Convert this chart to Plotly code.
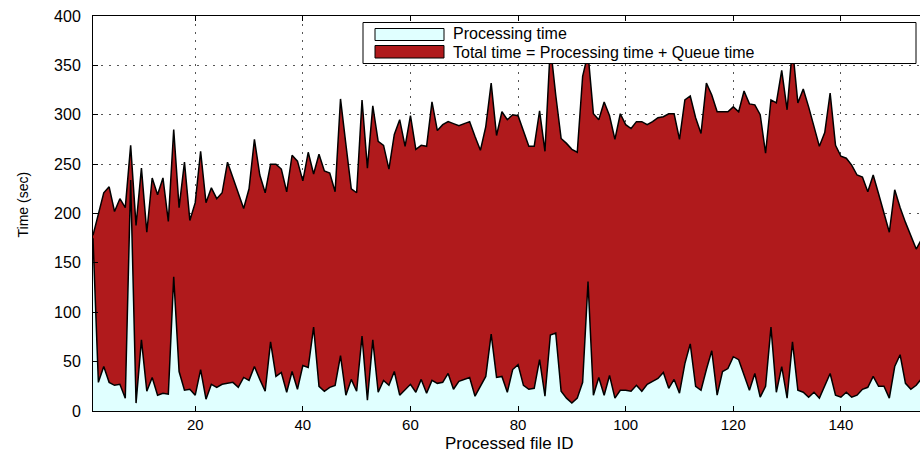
import plotly.graph_objects as go

# ---------------- data ----------------
file_id = list(range(1, 156))

total_time = [
    178, 200, 221, 227, 202, 215, 206, 269, 188, 246,
    181, 236, 219, 236, 192, 285, 206, 252, 193, 211,
    263, 211, 226, 215, 221, 252, 237, 221, 205, 225,
    275, 239, 221, 250, 250, 245, 222, 259, 253, 233,
    262, 240, 260, 243, 241, 222, 316, 270, 225, 221,
    315, 246, 309, 273, 269, 245, 280, 295, 268, 299,
    265, 269, 268, 313, 284, 290, 293, 291, 289, 291,
    293, 278, 264, 288, 332, 279, 303, 295, 300, 299,
    284, 268, 268, 304, 263, 370, 320, 276, 271, 265,
    262, 339, 362, 301, 295, 313, 299, 275, 301, 290,
    286, 293, 293, 290, 293, 297, 298, 301, 301, 275,
    315, 319, 297, 281, 332, 320, 303, 303, 303, 308,
    303, 324, 311, 310, 300, 261, 315, 312, 345, 305,
    368, 312, 326, 308, 287, 268, 282, 322, 269, 258,
    256, 249, 239, 237, 222, 239, 220, 200, 181, 224,
    206, 191, 178, 164, 174,
]

processing_time = [
    175, 29, 45, 29, 26, 27, 13, 234, 8, 72,
    20, 34, 16, 18, 17, 136, 40, 21, 22, 16,
    42, 12, 27, 24, 27, 28, 29, 24, 34, 31,
    45, 32, 20, 70, 35, 39, 19, 40, 22, 46,
    44, 85, 25, 20, 24, 26, 56, 16, 32, 20,
    76, 11, 72, 19, 31, 26, 40, 16, 21, 27,
    19, 32, 18, 31, 28, 29, 38, 22, 30, 32,
    34, 15, 25, 35, 78, 34, 35, 19, 42, 47,
    26, 22, 23, 52, 15, 77, 79, 20, 13, 8,
    13, 29, 131, 16, 34, 16, 36, 13, 21, 21,
    20, 26, 20, 27, 30, 33, 39, 23, 32, 18,
    48, 68, 25, 21, 42, 61, 16, 40, 43, 55,
    52, 36, 21, 38, 14, 25, 85, 19, 45, 13,
    70, 21, 19, 14, 19, 13, 25, 38, 16, 14,
    19, 14, 16, 22, 24, 35, 25, 25, 13, 45,
    57, 28, 22, 26, 33,
]

y_ticks = [0, 50, 100, 150, 200, 250, 300, 350, 400]
x_ticks = [20, 40, 60, 80, 100, 120, 140]
legend_labels = ["Processing time", "Total time = Processing time + Queue time"]
x_title = "Processed file ID"
y_title = "Time (sec)"

RED = "#B01A1C"
CYAN = "#E0FFFF"
FONT = "Arial, Liberation Sans, Helvetica, sans-serif"

# ---------------- figure ----------------
W, H = 920, 452
ML, MR, MT, MB = 93, 0, 16, 41

fig = go.Figure()
fig.add_trace(go.Scatter(
    x=file_id, y=total_time, mode="lines", fill="tozeroy",
    fillcolor=RED, line=dict(color="black", width=1.5),
    name=legend_labels[1], showlegend=False, hoverinfo="skip"))
fig.add_trace(go.Scatter(
    x=file_id, y=processing_time, mode="lines", fill="tozeroy",
    fillcolor=CYAN, line=dict(color="black", width=1.5),
    name=legend_labels[0], showlegend=False, hoverinfo="skip"))

grid_dash = "2px,6px"
fig.update_xaxes(
    range=[1, 154.7], tickvals=x_ticks, ticks="inside", ticklen=5,
    tickcolor="black", showline=True, linecolor="black", linewidth=1,
    mirror="ticks", showgrid=True, gridcolor="#555555", griddash=grid_dash,
    gridwidth=1, zeroline=False, tickfont=dict(family=FONT, size=15, color="black"),
    ticklabelstandoff=0,
)
fig.update_yaxes(
    range=[0, 400], tickvals=y_ticks, ticks="inside", ticklen=5,
    tickcolor="black", showline=True, linecolor="black", linewidth=1,
    showgrid=True, gridcolor="#555555", griddash=grid_dash, gridwidth=1,
    zeroline=False, tickfont=dict(family=FONT, size=16, color="black"),
    ticklabelstandoff=8,
)

# ---------------- pixel helpers for legend / titles ----------------
pw = W - ML - MR
ph = H - MT - MB


def px_x(p):
    return (p - ML) / pw


def px_y(p):
    return (H - MB - p) / ph


shapes = [
    dict(type="rect", xref="paper", yref="paper", layer="above",
         x0=px_x(363), x1=px_x(916), y0=px_y(63.5), y1=px_y(22.5),
         fillcolor="white", line=dict(color="black", width=1)),
    dict(type="rect", xref="paper", yref="paper", layer="above",
         x0=px_x(375), x1=px_x(444), y0=px_y(40.5), y1=px_y(28.5),
         fillcolor=CYAN, line=dict(color="black", width=1)),
    dict(type="rect", xref="paper", yref="paper", layer="above",
         x0=px_x(375), x1=px_x(444), y0=px_y(58), y1=px_y(45.5),
         fillcolor=RED, line=dict(color="black", width=1)),
]
annotations = [
    dict(xref="paper", yref="paper", x=px_x(451), y=px_y(33.5), text=legend_labels[0],
         showarrow=False, xanchor="left", yanchor="middle",
         font=dict(family=FONT, size=16, color="black")),
    dict(xref="paper", yref="paper", x=px_x(451), y=px_y(52.5), text=legend_labels[1],
         showarrow=False, xanchor="left", yanchor="middle",
         font=dict(family=FONT, size=16, color="black")),
    dict(xref="paper", yref="paper", x=px_x(509), y=px_y(443.5), text=x_title,
         showarrow=False, xanchor="center", yanchor="middle",
         font=dict(family=FONT, size=17, color="black")),
    dict(xref="paper", yref="paper", x=px_x(22.5), y=px_y(205), text=y_title,
         showarrow=False, xanchor="center", yanchor="middle", textangle=-90,
         font=dict(family=FONT, size=14, color="black")),
]

fig.update_layout(
    width=W, height=H,
    margin=dict(l=ML, r=MR, t=MT, b=MB, autoexpand=False),
    paper_bgcolor="white", plot_bgcolor="white",
    showlegend=False, shapes=shapes, annotations=annotations,
    font=dict(family=FONT, color="black"),
)

fig.write_html("out.html")
